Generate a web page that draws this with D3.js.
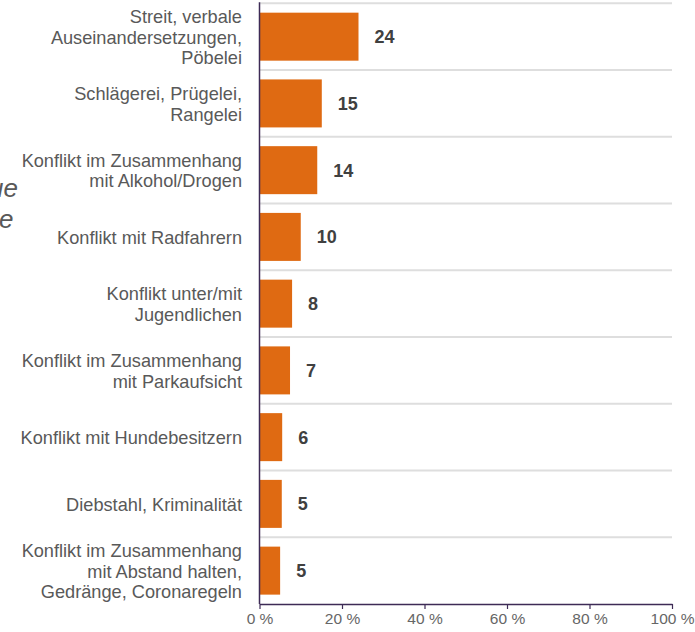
<!DOCTYPE html>
<html>
<head>
<meta charset="utf-8">
<script src="https://cdn.jsdelivr.net/npm/d3@7"></script>
<style>
  html, body { margin: 0; padding: 0; background: #fff; }
  svg { display: block; font-family: "Liberation Sans", Arial, sans-serif; }
</style>
</head>
<body>
<svg id="chart" width="695" height="632"></svg>
<script>
// Kategorien (mehrzeilige Beschriftung) und Anteile in Prozent
const categories = [
  ["Streit, verbale", "Auseinandersetzungen,", "Pöbelei"],
  ["Schlägerei, Prügelei,", "Rangelei"],
  ["Konflikt im Zusammenhang", "mit Alkohol/Drogen"],
  ["Konflikt mit Radfahrern"],
  ["Konflikt unter/mit", "Jugendlichen"],
  ["Konflikt im Zusammenhang", "mit Parkaufsicht"],
  ["Konflikt mit Hundebesitzern"],
  ["Diebstahl, Kriminalität"],
  ["Konflikt im Zusammenhang", "mit Abstand halten,", "Gedränge, Coronaregeln"]
];
const values = [24, 15.1, 14, 10, 7.9, 7.4, 5.5, 5.4, 5.0];
const tickValues = [0, 20, 40, 60, 80, 100];
const sideTextFragments = ["ue", "e"];

const svg = d3.select("#chart");
const margin = { left: 259.5, right: 672, top: 3.3, bottom: 604 };

const x = d3.scaleLinear().domain([0, 100]).range([margin.left, margin.right]);
const y = d3.scaleBand()
  .domain(d3.range(categories.length))
  .range([margin.top, margin.bottom]);

const step = y.step();
const barH = 48;

// Randtext (links vom Bildrand abgeschnitten)
const sideEnds = [18, 13.5];
svg.append("g")
  .selectAll("text")
  .data(sideTextFragments)
  .join("text")
  .attr("x", (d, i) => sideEnds[i])
  .attr("y", (d, i) => 197 + i * 31)
  .attr("text-anchor", "end")
  .attr("font-size", 26)
  .attr("font-style", "italic")
  .attr("fill", "#595959")
  .text(d => d);

// horizontale Trennlinien zwischen den Kategorien
svg.append("g")
  .selectAll("line")
  .data(d3.range(categories.length))
  .join("line")
  .attr("x1", margin.left)
  .attr("x2", margin.right)
  .attr("y1", i => y(i))
  .attr("y2", i => y(i))
  .attr("stroke", "#dedede")
  .attr("stroke-width", 2);

// Balken
svg.append("g")
  .selectAll("rect")
  .data(values)
  .join("rect")
  .attr("x", x(0))
  .attr("y", (d, i) => y(i) + (step - barH) / 2)
  .attr("width", d => x(d) - x(0))
  .attr("height", barH)
  .attr("fill", "#df6a12");

// Wertbeschriftungen
svg.append("g")
  .selectAll("text")
  .data(values)
  .join("text")
  .attr("x", d => x(d) + 16)
  .attr("y", (d, i) => y(i) + step / 2)
  .attr("dy", "0.36em")
  .attr("font-size", 18)
  .attr("font-weight", "bold")
  .attr("fill", "#404040")
  .text(d => Math.round(d));

// Kategoriebeschriftungen
const lineH = 20.5;
const labels = svg.append("g")
  .selectAll("text")
  .data(categories)
  .join("text")
  .attr("text-anchor", "end")
  .attr("font-size", 18.2)
  .attr("fill", "#595959");
labels.each(function(lines, i) {
  const cy = y(i) + step / 2 + 0.5;
  const first = cy - (lines.length - 1) * lineH / 2;
  d3.select(this).selectAll("tspan")
    .data(lines)
    .join("tspan")
    .attr("x", 242)
    .attr("y", (d, j) => first + j * lineH)
    .attr("dy", "0.36em")
    .text(d => d);
});

// x-Achse
const xAxis = svg.append("g")
  .attr("transform", `translate(0,${margin.bottom})`)
  .call(d3.axisBottom(x).tickValues(tickValues).tickSize(5).tickSizeOuter(0)
    .tickFormat(d => d + " %"));
xAxis.select(".domain").attr("stroke", "#3d2b56").attr("stroke-width", 1.5);
xAxis.selectAll(".tick line").attr("stroke", "#3d2b56").attr("stroke-width", 1.2);
xAxis.selectAll(".tick text")
  .attr("y", 9)
  .attr("font-size", 15.5)
  .attr("font-family", "Liberation Sans, Arial, sans-serif")
  .attr("fill", "#666");

// y-Achsenlinie
svg.append("line")
  .attr("x1", margin.left)
  .attr("x2", margin.left)
  .attr("y1", margin.top - 1)
  .attr("y2", margin.bottom)
  .attr("stroke", "#3d2b56")
  .attr("stroke-width", 1.5);
</script>
</body>
</html>
